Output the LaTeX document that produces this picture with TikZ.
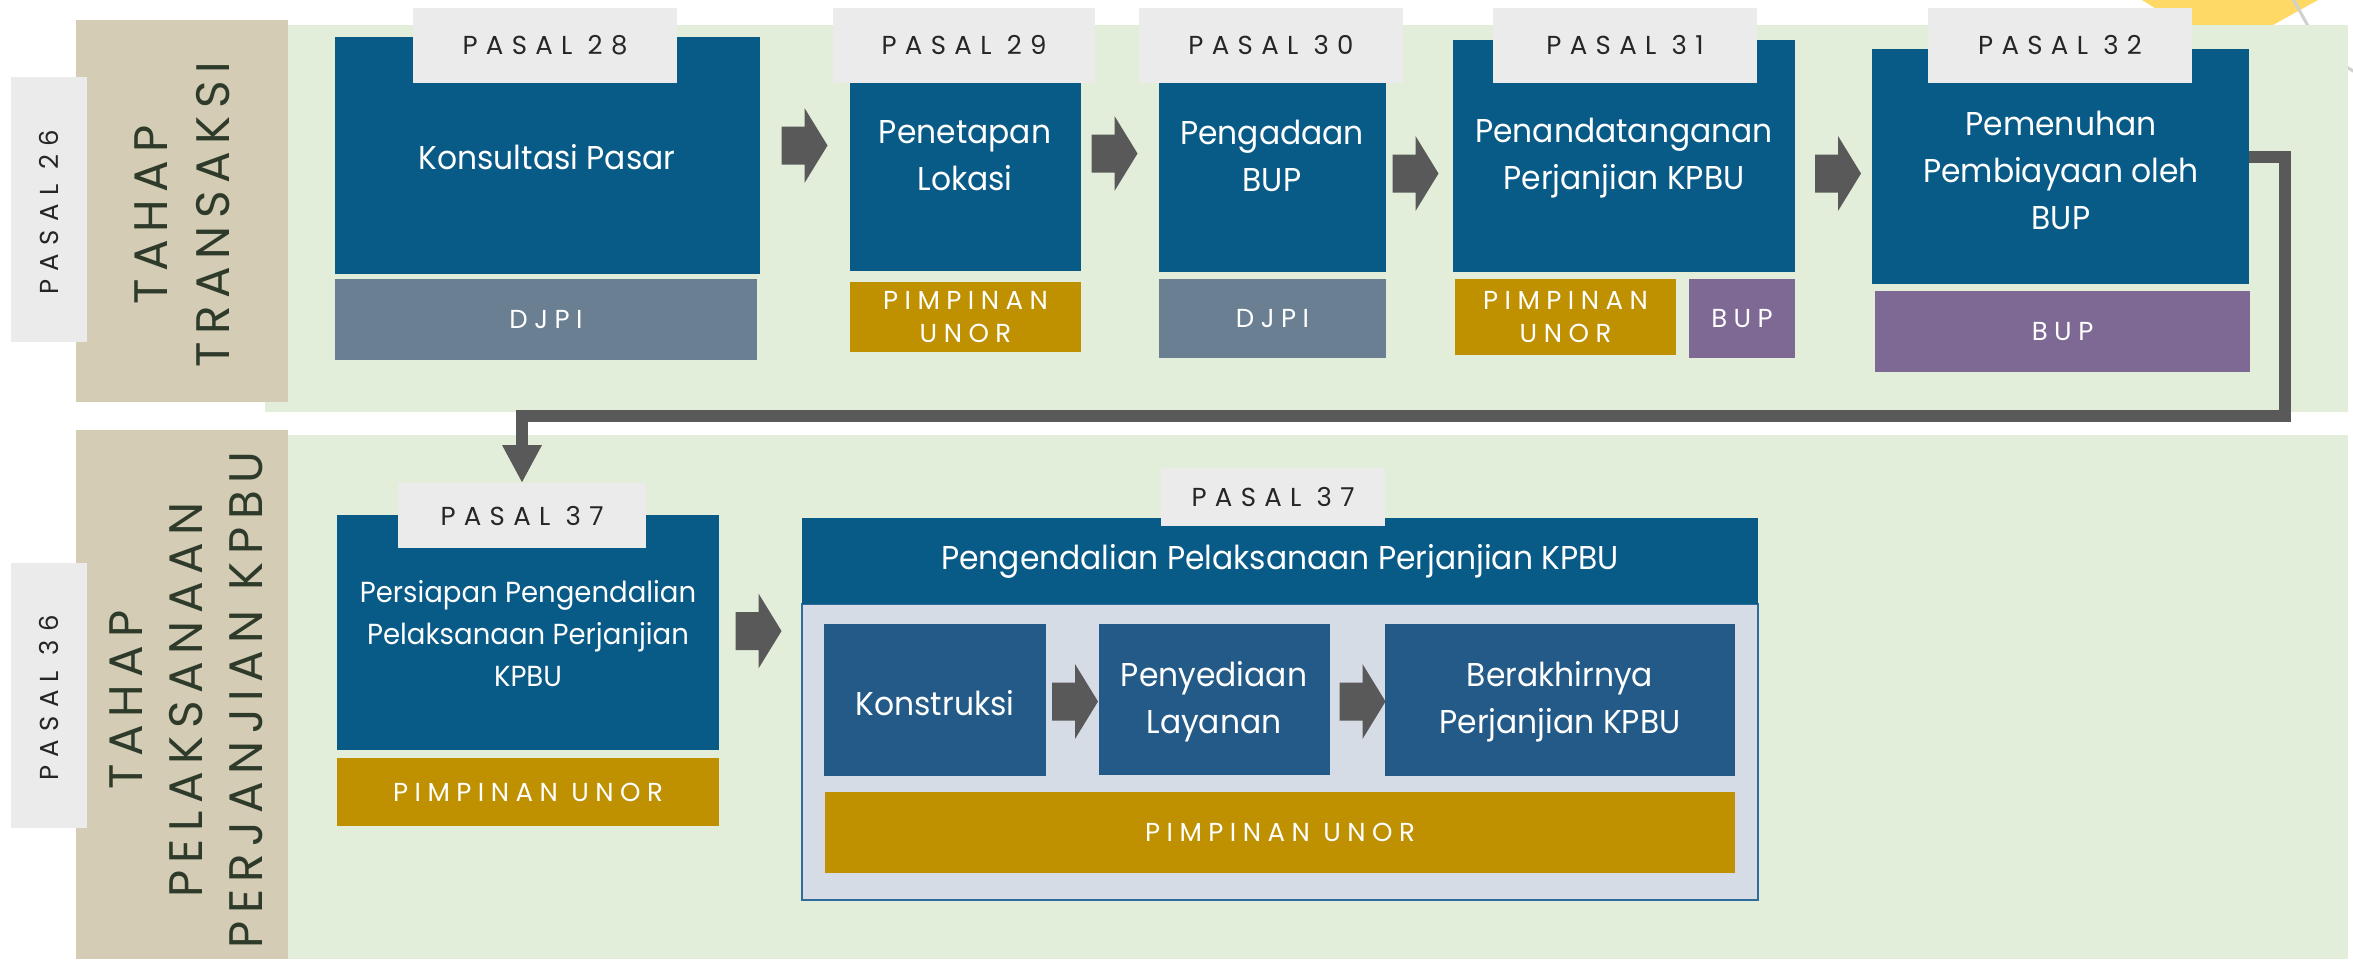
\documentclass[tikz,border=0pt]{standalone}
\usepackage{fontspec}
\setmainfont{Poppins}
\newfontfamily\titlefont[FakeStretch=0.95]{Poppins}
\newfontfamily\rolefont[LetterSpace=25]{Poppins}
\newfontfamily\pasalfont[LetterSpace=32]{Poppins}
\newfontfamily\phasefont[LetterSpace=16]{Poppins}
\usetikzlibrary{fit,calc,arrows.meta}

\definecolor{bgGreen}{HTML}{E2EED9}
\definecolor{phaseTan}{HTML}{D4CCB4}
\definecolor{lblGray}{HTML}{EBEBEB}
\definecolor{mainBlue}{HTML}{085A87}
\definecolor{innerBlue}{HTML}{245A87}
\definecolor{slate}{HTML}{6A7F92}
\definecolor{gold}{HTML}{BF9000}
\definecolor{plum}{HTML}{7E6994}
\definecolor{arrowGray}{HTML}{595959}
\definecolor{panelFill}{HTML}{D6DCE5}
\definecolor{panelEdge}{HTML}{2E6C9E}
\definecolor{sunYellow}{HTML}{FFD966}
\definecolor{phaseText}{HTML}{2E3B2B}
\definecolor{labelText}{HTML}{262626}
\definecolor{hexLine}{HTML}{D0D0D0}

\tikzset{
  plainbox/.style={inner sep=0pt, outer sep=0pt, draw=none, fill=#1},
  title/.style={text=white, inner sep=0pt, align=center,
    font=\titlefont\fontsize{16.5}{23.5}\selectfont},
  role/.style={text=white, inner sep=0pt, align=center,
    font=\rolefont\fontsize{13}{16.5}\selectfont},
  pasal/.style={text=labelText, inner sep=0pt,
    font=\pasalfont\fontsize{13}{15}\selectfont},
  phase/.style={text=phaseText, inner sep=0pt, align=center, rotate=90,
    font=\phasefont\fontsize{23.5}{31}\selectfont},
  sidepasal/.style={text=labelText, inner sep=0pt, rotate=90,
    font=\pasalfont\fontsize{13}{15}\selectfont},
  conn/.style={draw=arrowGray, line width=6pt,
    -{Triangle[width=18.5pt,length=19pt]}},
  blockarrow/.pic={\fill[arrowGray] (-23,-19) -- (0,-19) -- (0,-37.5) -- (23,0)
    -- (0,37.5) -- (0,19) -- (-23,19) -- cycle;}
}

\begin{document}
\begin{tikzpicture}[x=0.5pt, y=-0.5pt]
\useasboundingbox (0,0) rectangle (2353,959);
\fill[white] (0,0) rectangle (2353,959);

% corner ornament behind the top band
\fill[sunYellow] (2110,-20) -- (2214,45) -- (2237,45) -- (2354,-20) -- cycle;
\draw[hexLine, line width=1.5pt] (2288,-10) -- (2313,35);
\draw[hexLine, line width=1.5pt] (2338,62) -- (2365,78);

% phase bands
\node[plainbox=bgGreen, fit={(265,25)(2348,412)}] (bandT) {};
\node[plainbox=bgGreen, fit={(265,435)(2348,959)}] (bandB) {};
\node[plainbox=phaseTan, fit={(76,20)(288,402)}] (tanT) {};
\node[plainbox=phaseTan, fit={(76,430)(288,959)}] (tanB) {};
\node[plainbox=lblGray, fit={(11,77)(87,342)}] (p26) {};
\node[plainbox=lblGray, fit={(11,563)(87,828)}] (p36) {};
\node[sidepasal] (p26t) at (49,212) {PASAL 26};
\node[sidepasal] (p36t) at (49,698) {PASAL 36};
\node[phase] (phT) at (182,215) {TAHAP\\TRANSAKSI};
\node[phase, font=\phasefont\fontsize{23.5}{30}\selectfont] (phB) at (186,700)
  {TAHAP\\PELAKSANAAN\\PERJANJIAN KPBU};

% transaction stage boxes
\node[plainbox=mainBlue, fit={(335,37)(760,274)}] (kons) {};
\node[plainbox=slate, fit={(335,279)(757,360)}] (djpiA) {};
\node[plainbox=lblGray, fit={(413,8)(677,83)}] (lab28) {};

\node[plainbox=mainBlue, fit={(850,83)(1081,271)}] (lok) {};
\node[plainbox=gold, fit={(850,282)(1081,352)}] (unorA) {};
\node[plainbox=lblGray, fit={(833,8)(1095,83)}] (lab29) {};

\node[plainbox=mainBlue, fit={(1159,83)(1386,272)}] (bup) {};
\node[plainbox=slate, fit={(1159,279)(1386,358)}] (djpiB) {};
\node[plainbox=lblGray, fit={(1139,8)(1403,83)}] (lab30) {};

\node[plainbox=mainBlue, fit={(1453,40)(1795,272)}] (ttd) {};
\node[plainbox=gold, fit={(1455,279)(1676,355)}] (unorB) {};
\node[plainbox=plum, fit={(1689,279)(1795,358)}] (bupA) {};
\node[plainbox=lblGray, fit={(1493,8)(1757,83)}] (lab31) {};

\node[plainbox=mainBlue, fit={(1872,49)(2249,284)}] (biaya) {};
\node[plainbox=plum, fit={(1875,291)(2250,372)}] (bupB) {};
\node[plainbox=lblGray, fit={(1928,8)(2192,83)}] (lab32) {};

\node[title] (tKons) at (547,157) {Konsultasi Pasar};
\node[title] (tLok) at (965,156) {Penetapan\\Lokasi};
\node[title] (tBup) at (1272,156) {Pengadaan\\BUP};
\node[title] (tTtd) at (1624,158) {Penandatanganan\\Perjanjian KPBU};
\node[title] (tBiaya) at (2061,170) {Pemenuhan\\Pembiayaan oleh\\BUP};

\node[role] at (djpiA.center) {DJPI};
\node[role] at (unorA.center) {PIMPINAN\\UNOR};
\node[role] at (djpiB.center) {DJPI};
\node[role] at (unorB.center) {PIMPINAN\\UNOR};
\node[role] at (bupA.center) {BUP};
\node[role] at (bupB.center) {BUP};

\node[pasal] at (lab28.center) {PASAL 28};
\node[pasal] at (lab29.center) {PASAL 29};
\node[pasal] at (lab30.center) {PASAL 30};
\node[pasal] at (lab31.center) {PASAL 31};
\node[pasal] at (lab32.center) {PASAL 32};

% implementation stage boxes
\node[plainbox=mainBlue, fit={(337,515)(719,750)}] (prep) {};
\node[plainbox=gold, fit={(337,758)(719,826)}] (unorC) {};
\node[plainbox=lblGray, fit={(398,483)(646,548)}] (lab37a) {};

\node[inner sep=0pt, outer sep=0pt, fill=panelFill, draw=panelEdge, line width=1pt,
  fit={(802,604)(1758,900)}] (panel) {};
\node[plainbox=mainBlue, fit={(802,518)(1758,604)}] (ctrl) {};
\node[plainbox=lblGray, fit={(1161,468)(1385,526)}] (lab37b) {};
\node[plainbox=innerBlue, fit={(824,624)(1046,776)}] (build) {};
\node[plainbox=innerBlue, fit={(1099,624)(1330,775)}] (serve) {};
\node[plainbox=innerBlue, fit={(1385,624)(1735,776)}] (close) {};
\node[plainbox=gold, fit={(825,792)(1735,873)}] (unorD) {};

\node[title, font=\titlefont\fontsize{14.5}{21}\selectfont] (tPrep) at (528,634)
  {Persiapan Pengendalian\\Pelaksanaan Perjanjian\\KPBU};
\node[title] (tCtrl) at (ctrl.center) {Pengendalian Pelaksanaan Perjanjian KPBU};
\node[title] (tBuild) at (935,703) {Konstruksi};
\node[title] (tServe) at (1214,702) {Penyediaan\\Layanan};
\node[title] (tClose) at (1560,702) {Berakhirnya\\Perjanjian KPBU};

\node[role] at (unorC.center) {PIMPINAN UNOR};
\node[role] at (unorD.center) {PIMPINAN UNOR};
\node[pasal] at (lab37a.center) {PASAL 37};
\node[pasal] at (lab37b.center) {PASAL 37};

% block arrows between steps
\pic at (804.5,145.5) {blockarrow};
\pic at (1114.5,153.5) {blockarrow};
\pic at (1415.5,173.5) {blockarrow};
\pic at (1838,173.5) {blockarrow};
\pic at (758.5,631) {blockarrow};
\pic at (1075,701.5) {blockarrow};
\pic at (1362.5,701.5) {blockarrow};

% link from the last transaction step down to the implementation stage
\draw[conn] ($(biaya.east)+(0,-9.5)$) -| (2285,416) -| (lab37a.north);
\end{tikzpicture}
\end{document}
